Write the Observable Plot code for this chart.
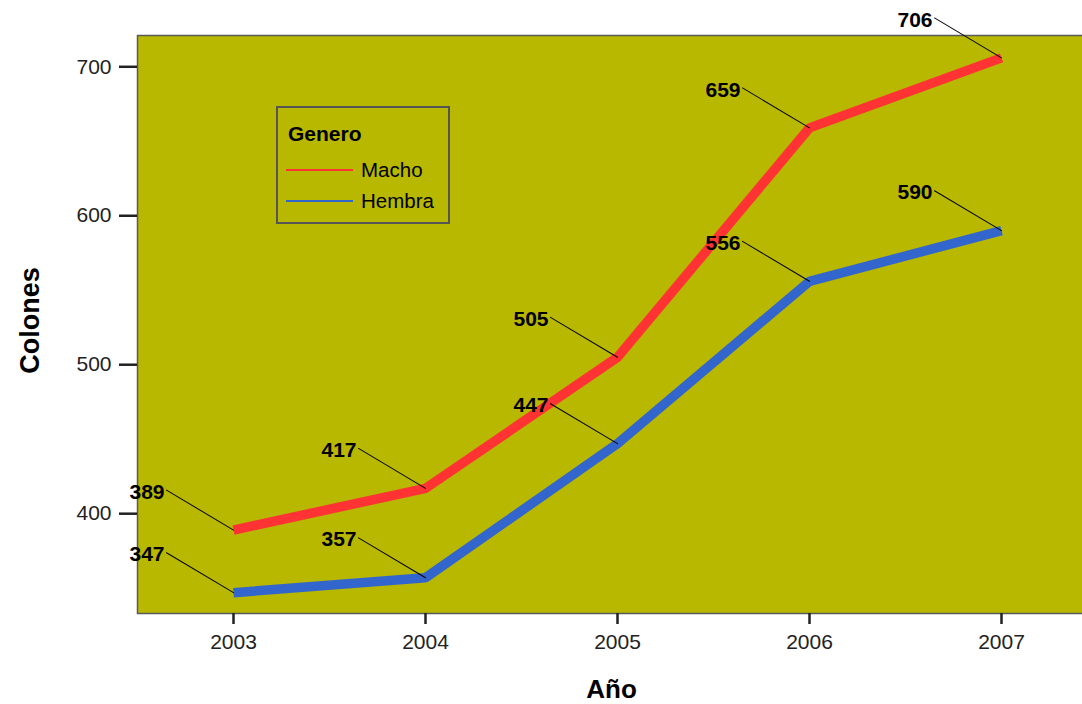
<!DOCTYPE html>
<html>
<head>
<meta charset="utf-8">
<script src="https://cdn.jsdelivr.net/npm/d3@7"></script>
<script src="https://cdn.jsdelivr.net/npm/@observablehq/plot@0.6"></script>
<style>
  html, body { margin: 0; padding: 0; background: #ffffff; }
  #wrap { position: relative; width: 1082px; height: 704px; overflow: hidden; font-family: "Liberation Sans", Arial, sans-serif; }
  #legend { position: absolute; left: 276px; top: 106px; width: 170px; height: 114px; border: 2px solid #555555; }
  #legend .title { position: absolute; left: 10px; top: 14px; font-weight: bold; font-size: 21px; color: #000; }
  #legend .item { position: absolute; left: 8px; height: 22px; font-size: 20.5px; color: #000; display: flex; align-items: center; }
  #legend .sw { width: 67px; height: 2px; margin-right: 8px; }
</style>
</head>
<body>
<div id="wrap"></div>
<script>
// ---- data ----
const years = [2003, 2004, 2005, 2006, 2007];
const macho = [389, 417, 505, 659, 706];
const hembra = [347, 357, 447, 556, 590];
const seriesNames = ["Macho", "Hembra"];
const seriesColors = ["#FF3333", "#3366CC"];
const yTickValues = [400, 500, 600, 700];
const xTickValues = [2003, 2004, 2005, 2006, 2007];
const legendTitle = "Genero";
const xLabel = "Año";
const yLabel = "Colones";

const rows = [];
years.forEach((yr, i) => {
  rows.push({year: yr, value: macho[i], serie: seriesNames[0]});
});
years.forEach((yr, i) => {
  rows.push({year: yr, value: hembra[i], serie: seriesNames[1]});
});

const font = "'Liberation Sans', Arial, sans-serif";

const chart = Plot.plot({
  width: 1082,
  height: 704,
  marginLeft: 137,
  marginRight: -15,
  marginTop: 35,
  marginBottom: 91,
  style: {background: "#ffffff", fontFamily: font, overflow: "hidden"},
  x: {domain: [2002.5, 2007.5]},
  y: {domain: [333, 721]},
  color: {domain: seriesNames, range: seriesColors},
  marks: [
    Plot.frame({fill: "#B8B800", stroke: "#5a5a5a", strokeWidth: 1.5}),
    Plot.axisY({ticks: yTickValues, tickSize: 18, tickPadding: 8, fontSize: 21, label: null, strokeWidth: 2.5, color: "#222"}),
    Plot.axisX({ticks: xTickValues, tickFormat: d => String(d), tickSize: 11, tickPadding: 10, fontSize: 21, label: null, strokeWidth: 2.5, color: "#222"}),
    Plot.line(rows, {x: "year", y: "value", z: "serie", stroke: "serie", strokeWidth: 9.5, strokeLinecap: "butt", strokeLinejoin: "miter"}),
    Plot.vector(rows, {x: "year", y: "value", anchor: "start", length: 78, rotate: 300.8, r: 0, stroke: "#000", strokeWidth: 1}),
    Plot.text(rows, {x: "year", y: "value", text: d => String(d.value), textAnchor: "end", lineAnchor: "middle", dx: -69, dy: -38, fontSize: 21, fontWeight: "bold", fill: "#000"}),
    Plot.text([yLabel], {frameAnchor: "left", text: d => d, dx: -107, dy: -4, rotate: -90, textAnchor: "middle", fontSize: 27, fontWeight: "bold", fill: "#000", lineAnchor: "middle"}),
    Plot.text([xLabel], {frameAnchor: "bottom", text: d => d, dy: 76, dx: -6, textAnchor: "middle", fontSize: 26, fontWeight: "bold", fill: "#000", lineAnchor: "middle"})
  ]
});

const wrap = document.getElementById("wrap");
wrap.appendChild(chart);

// legend
const lg = document.createElement("div");
lg.id = "legend";
const t = document.createElement("div");
t.className = "title";
t.textContent = legendTitle;
lg.appendChild(t);
seriesNames.forEach((name, i) => {
  const it = document.createElement("div");
  it.className = "item";
  it.style.top = (51 + i * 31) + "px";
  const sw = document.createElement("span");
  sw.className = "sw";
  sw.style.background = seriesColors[i];
  const tx = document.createElement("span");
  tx.textContent = name;
  it.appendChild(sw);
  it.appendChild(tx);
  lg.appendChild(it);
});
wrap.appendChild(lg);
</script>
</body>
</html>
